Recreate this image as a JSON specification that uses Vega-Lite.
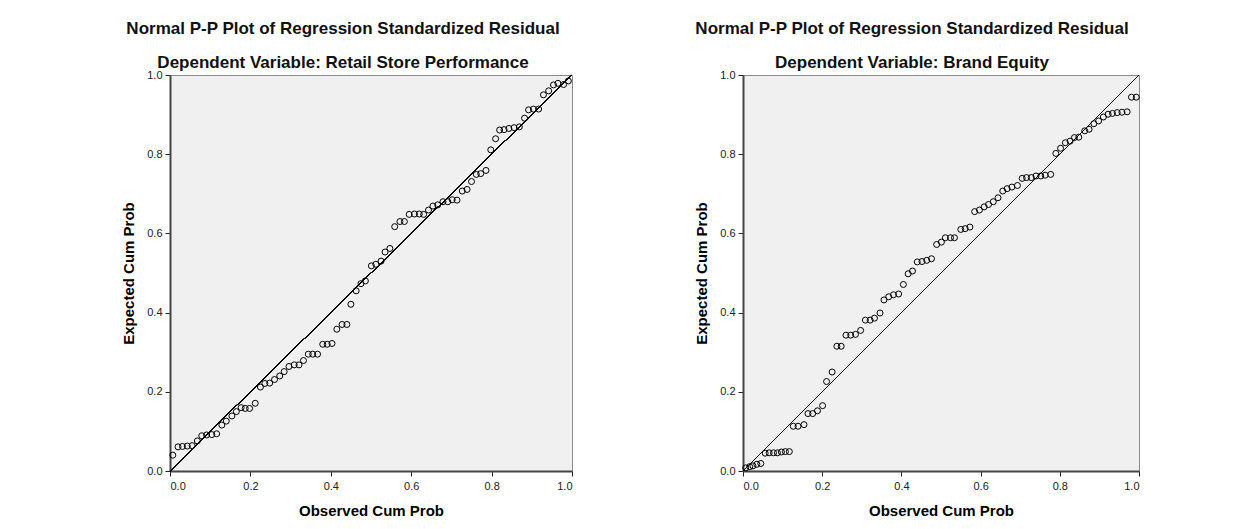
{
  "$schema": "https://vega.github.io/schema/vega-lite/v6.json",
  "background": "white",
  "padding": {"left": 121, "top": 19, "right": 0, "bottom": 0},
  "datasets": {
    "left": [
      {"observed": 0.007, "expected": 0.040}, {"observed": 0.020, "expected": 0.061}, {"observed": 0.031, "expected": 0.062},
      {"observed": 0.043, "expected": 0.063}, {"observed": 0.055, "expected": 0.064}, {"observed": 0.068, "expected": 0.076},
      {"observed": 0.079, "expected": 0.089}, {"observed": 0.091, "expected": 0.091}, {"observed": 0.104, "expected": 0.092},
      {"observed": 0.116, "expected": 0.094}, {"observed": 0.129, "expected": 0.116}, {"observed": 0.140, "expected": 0.126},
      {"observed": 0.154, "expected": 0.139}, {"observed": 0.165, "expected": 0.150}, {"observed": 0.177, "expected": 0.160},
      {"observed": 0.187, "expected": 0.158}, {"observed": 0.198, "expected": 0.158}, {"observed": 0.212, "expected": 0.171},
      {"observed": 0.225, "expected": 0.212}, {"observed": 0.236, "expected": 0.221}, {"observed": 0.248, "expected": 0.222},
      {"observed": 0.260, "expected": 0.231}, {"observed": 0.273, "expected": 0.240}, {"observed": 0.284, "expected": 0.251},
      {"observed": 0.296, "expected": 0.264}, {"observed": 0.309, "expected": 0.268}, {"observed": 0.321, "expected": 0.268},
      {"observed": 0.332, "expected": 0.279}, {"observed": 0.344, "expected": 0.295}, {"observed": 0.355, "expected": 0.295},
      {"observed": 0.367, "expected": 0.295}, {"observed": 0.380, "expected": 0.320}, {"observed": 0.391, "expected": 0.320},
      {"observed": 0.403, "expected": 0.322}, {"observed": 0.415, "expected": 0.358}, {"observed": 0.428, "expected": 0.370},
      {"observed": 0.440, "expected": 0.370}, {"observed": 0.450, "expected": 0.421}, {"observed": 0.463, "expected": 0.455},
      {"observed": 0.475, "expected": 0.473}, {"observed": 0.486, "expected": 0.480}, {"observed": 0.501, "expected": 0.518},
      {"observed": 0.512, "expected": 0.522}, {"observed": 0.525, "expected": 0.530}, {"observed": 0.535, "expected": 0.553},
      {"observed": 0.547, "expected": 0.562}, {"observed": 0.559, "expected": 0.617}, {"observed": 0.572, "expected": 0.630},
      {"observed": 0.583, "expected": 0.630}, {"observed": 0.595, "expected": 0.648}, {"observed": 0.608, "expected": 0.649},
      {"observed": 0.620, "expected": 0.649}, {"observed": 0.631, "expected": 0.648}, {"observed": 0.643, "expected": 0.659},
      {"observed": 0.654, "expected": 0.669}, {"observed": 0.666, "expected": 0.672}, {"observed": 0.679, "expected": 0.680},
      {"observed": 0.691, "expected": 0.680}, {"observed": 0.702, "expected": 0.685}, {"observed": 0.714, "expected": 0.684},
      {"observed": 0.727, "expected": 0.707}, {"observed": 0.739, "expected": 0.711}, {"observed": 0.750, "expected": 0.731},
      {"observed": 0.762, "expected": 0.749}, {"observed": 0.773, "expected": 0.751}, {"observed": 0.786, "expected": 0.759},
      {"observed": 0.798, "expected": 0.811}, {"observed": 0.810, "expected": 0.839}, {"observed": 0.820, "expected": 0.861},
      {"observed": 0.831, "expected": 0.862}, {"observed": 0.843, "expected": 0.865}, {"observed": 0.856, "expected": 0.867},
      {"observed": 0.869, "expected": 0.869}, {"observed": 0.882, "expected": 0.891}, {"observed": 0.892, "expected": 0.912},
      {"observed": 0.904, "expected": 0.914}, {"observed": 0.917, "expected": 0.914}, {"observed": 0.929, "expected": 0.950},
      {"observed": 0.942, "expected": 0.960}, {"observed": 0.954, "expected": 0.975}, {"observed": 0.965, "expected": 0.979},
      {"observed": 0.979, "expected": 0.976}, {"observed": 0.991, "expected": 0.985}
    ],
    "right": [
      {"observed": 0.007, "expected": 0.008}, {"observed": 0.017, "expected": 0.011}, {"observed": 0.025, "expected": 0.013},
      {"observed": 0.035, "expected": 0.017}, {"observed": 0.045, "expected": 0.019}, {"observed": 0.056, "expected": 0.045},
      {"observed": 0.066, "expected": 0.046}, {"observed": 0.077, "expected": 0.046}, {"observed": 0.087, "expected": 0.046},
      {"observed": 0.097, "expected": 0.048}, {"observed": 0.107, "expected": 0.049}, {"observed": 0.117, "expected": 0.049},
      {"observed": 0.127, "expected": 0.113}, {"observed": 0.139, "expected": 0.113}, {"observed": 0.154, "expected": 0.117},
      {"observed": 0.164, "expected": 0.145}, {"observed": 0.176, "expected": 0.145}, {"observed": 0.188, "expected": 0.152},
      {"observed": 0.201, "expected": 0.165}, {"observed": 0.211, "expected": 0.226}, {"observed": 0.225, "expected": 0.250},
      {"observed": 0.237, "expected": 0.315}, {"observed": 0.248, "expected": 0.315}, {"observed": 0.260, "expected": 0.343},
      {"observed": 0.272, "expected": 0.343}, {"observed": 0.284, "expected": 0.345}, {"observed": 0.297, "expected": 0.355},
      {"observed": 0.309, "expected": 0.381}, {"observed": 0.321, "expected": 0.381}, {"observed": 0.332, "expected": 0.386},
      {"observed": 0.346, "expected": 0.399}, {"observed": 0.356, "expected": 0.432}, {"observed": 0.368, "expected": 0.440},
      {"observed": 0.380, "expected": 0.445}, {"observed": 0.393, "expected": 0.447}, {"observed": 0.405, "expected": 0.471},
      {"observed": 0.417, "expected": 0.498}, {"observed": 0.428, "expected": 0.505}, {"observed": 0.440, "expected": 0.528},
      {"observed": 0.452, "expected": 0.529}, {"observed": 0.464, "expected": 0.532}, {"observed": 0.476, "expected": 0.536},
      {"observed": 0.489, "expected": 0.572}, {"observed": 0.501, "expected": 0.578}, {"observed": 0.511, "expected": 0.589},
      {"observed": 0.524, "expected": 0.589}, {"observed": 0.534, "expected": 0.589}, {"observed": 0.550, "expected": 0.610},
      {"observed": 0.561, "expected": 0.612}, {"observed": 0.573, "expected": 0.616}, {"observed": 0.585, "expected": 0.655},
      {"observed": 0.597, "expected": 0.659}, {"observed": 0.609, "expected": 0.667}, {"observed": 0.620, "expected": 0.673},
      {"observed": 0.632, "expected": 0.680}, {"observed": 0.644, "expected": 0.690}, {"observed": 0.656, "expected": 0.707},
      {"observed": 0.667, "expected": 0.713}, {"observed": 0.679, "expected": 0.717}, {"observed": 0.693, "expected": 0.721},
      {"observed": 0.705, "expected": 0.739}, {"observed": 0.716, "expected": 0.741}, {"observed": 0.728, "expected": 0.741},
      {"observed": 0.740, "expected": 0.745}, {"observed": 0.752, "expected": 0.745}, {"observed": 0.763, "expected": 0.747},
      {"observed": 0.777, "expected": 0.749}, {"observed": 0.790, "expected": 0.802}, {"observed": 0.802, "expected": 0.815},
      {"observed": 0.814, "expected": 0.829}, {"observed": 0.826, "expected": 0.833}, {"observed": 0.837, "expected": 0.842},
      {"observed": 0.848, "expected": 0.843}, {"observed": 0.863, "expected": 0.859}, {"observed": 0.874, "expected": 0.863},
      {"observed": 0.886, "expected": 0.877}, {"observed": 0.898, "expected": 0.884}, {"observed": 0.910, "expected": 0.894},
      {"observed": 0.922, "expected": 0.901}, {"observed": 0.933, "expected": 0.903}, {"observed": 0.945, "expected": 0.905},
      {"observed": 0.957, "expected": 0.906}, {"observed": 0.970, "expected": 0.907}, {"observed": 0.981, "expected": 0.944},
      {"observed": 0.993, "expected": 0.944}
    ]
  },
  "config": {
    "font": "Liberation Sans",
    "view": {"fill": "#f0f0f0", "stroke": "#8a8a8a", "strokeWidth": 1},
    "title": {"fontSize": 17, "fontWeight": "bold", "color": "#111111", "lineHeight": 34, "anchor": "middle", "frame": "group", "offset": -3, "font": "Liberation Sans"},
    "axis": {
      "grid": false,
      "domainColor": "#444444",
      "domainWidth": 2,
      "tickColor": "#222222",
      "tickSize": 5,
      "tickWidth": 1,
      "labelFontSize": 11,
      "labelColor": "#222222",
      "labelFont": "Liberation Sans",
      "titleFont": "Liberation Sans",
      "titleFontSize": 15,
      "titleFontWeight": "bold",
      "titleColor": "#000000"
    },
    "axisX": {"labelPadding": 4, "titlePadding": 12},
    "axisY": {"labelPadding": 3, "titlePadding": 10}
  },
  "spacing": 120,
  "hconcat": [
    {
      "width": 402,
      "height": 396,
      "title": {"text": ["Normal P-P Plot of Regression Standardized Residual", "Dependent Variable: Retail Store Performance"], "dx": -28},
      "data": {"name": "left"},
      "layer": [
        {
          "mark": {"type": "rule", "color": "#000000", "strokeWidth": 1},
          "encoding": {
            "x": {"datum": 0, "type": "quantitative"},
            "y": {"datum": 0, "type": "quantitative"},
            "x2": {"datum": 1},
            "y2": {"datum": 1}
          }
        },
        {
          "mark": {"type": "point", "shape": "circle", "filled": false, "color": "#000000", "strokeWidth": 1, "size": 36, "opacity": 1},
          "encoding": {
            "x": {"field": "observed", "type": "quantitative", "title": "Observed Cum Prob",
                  "scale": {"domain": [0, 1], "nice": false, "zero": false},
                  "axis": {"values": [0, 0.2, 0.4, 0.6, 0.8, 1.0], "format": ".1f"}},
            "y": {"field": "expected", "type": "quantitative", "title": "Expected Cum Prob",
                  "scale": {"domain": [0, 1], "nice": false, "zero": false},
                  "axis": {"values": [0, 0.2, 0.4, 0.6, 0.8, 1.0], "format": ".1f"}}
          }
        }
      ]
    },
    {
      "width": 396,
      "height": 396,
      "title": {"text": ["Normal P-P Plot of Regression Standardized Residual", "Dependent Variable: Brand Equity"], "dx": -29},
      "data": {"name": "right"},
      "layer": [
        {
          "mark": {"type": "rule", "color": "#000000", "strokeWidth": 1},
          "encoding": {
            "x": {"datum": 0, "type": "quantitative"},
            "y": {"datum": 0, "type": "quantitative"},
            "x2": {"datum": 1},
            "y2": {"datum": 1}
          }
        },
        {
          "mark": {"type": "point", "shape": "circle", "filled": false, "color": "#000000", "strokeWidth": 1, "size": 36, "opacity": 1},
          "encoding": {
            "x": {"field": "observed", "type": "quantitative", "title": "Observed Cum Prob",
                  "scale": {"domain": [0, 1], "nice": false, "zero": false},
                  "axis": {"values": [0, 0.2, 0.4, 0.6, 0.8, 1.0], "format": ".1f"}},
            "y": {"field": "expected", "type": "quantitative", "title": "Expected Cum Prob",
                  "scale": {"domain": [0, 1], "nice": false, "zero": false},
                  "axis": {"values": [0, 0.2, 0.4, 0.6, 0.8, 1.0], "format": ".1f"}}
          }
        }
      ]
    }
  ]
}
